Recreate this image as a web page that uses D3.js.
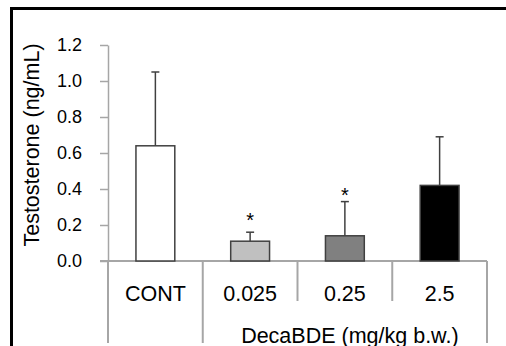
<!DOCTYPE html>
<html>
<head>
<meta charset="utf-8">
<script src="https://d3js.org/d3.v7.min.js"></script>
<style>
  body { margin: 0; background: #fff; }
  text { font-family: "Liberation Sans", Arial, sans-serif; fill: #000; }
</style>
</head>
<body>
<div id="chart"></div>
<script>

// data
var categories = ["CONT", "0.025", "0.25", "2.5"];
var means = [0.64, 0.11, 0.14, 0.42];
var errs = [0.41, 0.05, 0.19, 0.27];
var fills = ["#ffffff", "#c0c0c0", "#808080", "#000000"];
var starAt = [null, 0.25, 0.39, null];   // where the * marks sit (y value)
var yTicks = [0, 0.2, 0.4, 0.6, 0.8, 1.0, 1.2];
var yTitle = "Testosterone (ng/mL)";
var groupLabel = "DecaBDE (mg/kg b.w.)";

var width = 506, height = 346;
var axisGrey = "#a6a6a6";

var svg = d3.select("#chart")
  .append("svg")
    .attr("width", width)
    .attr("height", height);

var x = d3.scaleBand().domain(categories).range([108, 487]).padding(0);
var y = d3.scaleLinear().domain([0, 1.2]).range([261, 45]);

// outer black frame (runs off the right and bottom)
svg.append("rect")
  .attr("x", 11.5).attr("y", 8.5)
  .attr("width", 600).attr("height", 400)
  .attr("fill", "none")
  .attr("stroke", "#000")
  .attr("stroke-width", 3);

// y axis
var yAxis = svg.append("g")
  .attr("transform", "translate(108,0)")
  .call(d3.axisLeft(y)
    .tickValues(yTicks)
    .tickFormat(d3.format(".1f"))
    .tickSize(8)
    .tickSizeOuter(0)
    .tickPadding(18));
yAxis.select(".domain").attr("stroke", axisGrey).attr("stroke-width", 1.5);
yAxis.selectAll(".tick line").attr("stroke", axisGrey).attr("stroke-width", 1.5);
yAxis.selectAll(".tick text")
  .style("font-family", "Liberation Sans, Arial, sans-serif")
  .style("font-size", "18px")
  .attr("fill", "#000");

svg.append("text")
  .attr("transform", "translate(39," + 145 + ") rotate(-90)")
  .attr("text-anchor", "middle")
  .style("font-size", "21.5px")
  .text(yTitle);

// baseline
svg.append("line")
  .attr("x1", 100).attr("x2", x.range()[1])
  .attr("y1", y(0)).attr("y2", y(0))
  .attr("stroke", axisGrey)
  .attr("stroke-width", 2);

// category separators: long ones split CONT from the DecaBDE group
var edges = categories.map(function(c) { return x(c); }).concat([x.range()[1]]);
var longEdge = [true, true, false, false, true];
svg.selectAll(".sep")
  .data(edges)
  .enter().append("line")
    .attr("class", "sep")
    .attr("x1", function(d) { return d; })
    .attr("x2", function(d) { return d; })
    .attr("y1", y(0))
    .attr("y2", function(d, i) { return longEdge[i] ? 343 : 301; })
    .attr("stroke", axisGrey)
    .attr("stroke-width", 2);

// bars
var barW = x.bandwidth() * 0.41;
svg.selectAll(".bar")
  .data(categories)
  .enter().append("rect")
    .attr("class", "bar")
    .attr("x", function(d) { return x(d) + (x.bandwidth() - barW) / 2; })
    .attr("y", function(d, i) { return y(means[i]); })
    .attr("width", barW)
    .attr("height", function(d, i) { return y(0) - y(means[i]); })
    .attr("fill", function(d, i) { return fills[i]; })
    .attr("stroke", "#404040")
    .attr("stroke-width", 1.5);

// error bars (upper only)
var cx = function(d) { return x(d) + x.bandwidth() / 2; };
svg.selectAll(".err")
  .data(categories)
  .enter().append("line")
    .attr("class", "err")
    .attr("x1", cx).attr("x2", cx)
    .attr("y1", function(d, i) { return y(means[i]); })
    .attr("y2", function(d, i) { return y(means[i] + errs[i]); })
    .attr("stroke", "#404040")
    .attr("stroke-width", 1.5);
svg.selectAll(".cap")
  .data(categories)
  .enter().append("line")
    .attr("class", "cap")
    .attr("x1", function(d) { return cx(d) - 4; })
    .attr("x2", function(d) { return cx(d) + 4; })
    .attr("y1", function(d, i) { return y(means[i] + errs[i]); })
    .attr("y2", function(d, i) { return y(means[i] + errs[i]); })
    .attr("stroke", "#404040")
    .attr("stroke-width", 1.5);

// significance stars
svg.selectAll(".star")
  .data(categories.filter(function(d, i) { return starAt[i] != null; }))
  .enter().append("text")
    .attr("class", "star")
    .attr("x", cx)
    .attr("y", function(d) { return y(starAt[categories.indexOf(d)]) + 11; })
    .attr("text-anchor", "middle")
    .style("font-size", "20px")
    .text("*");

// category labels
svg.selectAll(".cat")
  .data(categories)
  .enter().append("text")
    .attr("class", "cat")
    .attr("x", cx)
    .attr("y", 300.5)
    .attr("text-anchor", "middle")
    .style("font-size", "21.5px")
    .text(function(d) { return d; });

// group label under the DecaBDE doses
svg.append("text")
  .attr("x", (x(categories[1]) + x.range()[1]) / 2 + 5)
  .attr("y", 343)
  .attr("text-anchor", "middle")
  .style("font-size", "21.5px")
  .text(groupLabel);

</script>
</body>
</html>
